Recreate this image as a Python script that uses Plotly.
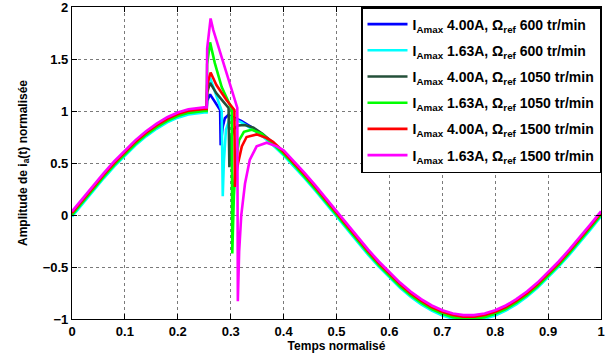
import plotly.graph_objects as go

# ---- shared sinusoidal reference (t, value) ----
t_base = [0.00, 0.02, 0.04, 0.06, 0.08, 0.10, 0.12, 0.14, 0.16, 0.18, 0.20, 0.22, 0.24,
          0.26, 0.28, 0.30, 0.32, 0.34, 0.36, 0.38, 0.40, 0.42, 0.44, 0.46, 0.48, 0.50,
          0.52, 0.54, 0.56, 0.58, 0.60, 0.62, 0.64, 0.66, 0.68, 0.70, 0.72, 0.74, 0.76,
          0.78, 0.80, 0.82, 0.84, 0.86, 0.88, 0.90, 0.92, 0.94, 0.96, 0.98, 1.00]
v_base = [0.000, 0.125, 0.249, 0.368, 0.482, 0.588, 0.685, 0.771, 0.844, 0.905, 0.951, 0.982, 0.998,
          0.998, 0.982, 0.951, 0.905, 0.844, 0.771, 0.685, 0.588, 0.482, 0.368, 0.249, 0.125, 0.000,
          -0.125, -0.249, -0.368, -0.482, -0.588, -0.685, -0.771, -0.844, -0.905, -0.951, -0.982, -0.998, -0.998,
          -0.982, -0.951, -0.905, -0.844, -0.771, -0.685, -0.588, -0.482, -0.368, -0.249, -0.125, 0.000]

# ---- series ----
labels = [
    "I<sub>Amax</sub> 4.00A, Ω<sub>ref</sub> 600 tr/min",
    "I<sub>Amax</sub> 1.63A, Ω<sub>ref</sub> 600 tr/min",
    "I<sub>Amax</sub> 4.00A, Ω<sub>ref</sub> 1050 tr/min",
    "I<sub>Amax</sub> 1.63A, Ω<sub>ref</sub> 1050 tr/min",
    "I<sub>Amax</sub> 4.00A, Ω<sub>ref</sub> 1500 tr/min",
    "I<sub>Amax</sub> 1.63A, Ω<sub>ref</sub> 1500 tr/min",
]
colors = ["#0000FF", "#00FFFF", "#24503A", "#00FF00", "#FF0000", "#FF00FF"]

# small vertical offset of each curve's steady part (read at t=0, 0.75, 1)
offsets = [0.0, -0.015, 0.01, 0.0, 0.02, 0.035]

# transient part of each curve (t, value)
tr_t = [
    [0.250, 0.2545, 0.2555, 0.261, 0.272, 0.280, 0.281, 0.285, 0.289, 0.295],
    [0.250, 0.2545, 0.2555, 0.261, 0.272, 0.283, 0.285, 0.287, 0.291, 0.299],
    [0.250, 0.2545, 0.2555, 0.261, 0.273, 0.286, 0.296, 0.2975, 0.300, 0.305, 0.314, 0.327, 0.343],
    [0.250, 0.2545, 0.2555, 0.261, 0.270, 0.283, 0.299, 0.302, 0.303, 0.306, 0.310, 0.316, 0.325, 0.340, 0.359],
    [0.250, 0.2545, 0.2555, 0.262, 0.273, 0.292, 0.307, 0.308, 0.310, 0.314, 0.321, 0.330, 0.349, 0.368],
    [0.250, 0.2545, 0.2555, 0.262, 0.267, 0.290, 0.3125, 0.3135, 0.316, 0.320, 0.327, 0.336, 0.349, 0.368, 0.387],
]
tr_v = [
    [1.00, 1.00, 1.10, 1.16, 1.08, 1.01, 0.67, 0.85, 0.93, 0.96],
    [0.985, 0.985, 1.20, 1.32, 1.15, 1.00, 0.18, 0.50, 0.82, 0.94],
    [1.01, 1.01, 1.18, 1.27, 1.17, 1.09, 1.03, 0.46, 0.72, 0.82, 0.86, 0.865, 0.84],
    [1.00, 1.00, 1.45, 1.66, 1.46, 1.23, 1.04, 1.02, -0.37, 0.18, 0.53, 0.72, 0.80, 0.82, 0.78],
    [1.02, 1.02, 1.25, 1.37, 1.25, 1.105, 1.01, 0.27, 0.38, 0.50, 0.66, 0.75, 0.775, 0.74],
    [1.035, 1.035, 1.60, 1.89, 1.78, 1.40, 1.03, -0.83, -0.35, 0.00, 0.30, 0.53, 0.66, 0.695, 0.66],
]

fig = go.Figure()
for i, (lab, col, off, tt, vv) in enumerate(zip(labels, colors, offsets, tr_t, tr_v)):
    start, end = tt[0], tt[-1]
    xs = [t for t in t_base if t < start]
    ys = [v + off for t, v in zip(t_base, v_base) if t < start]
    xs += tt
    ys += vv
    xs += [t for t in t_base if t > end + 0.004]
    ys += [v + off for t, v in zip(t_base, v_base) if t > end + 0.004]
    fig.add_trace(go.Scatter(x=xs, y=ys, mode="lines", name=lab, legendgroup=f"g{i}",
                             line=dict(color=col, width=2.6)))

axis_common = dict(
    showline=True, linecolor="black", linewidth=1.2, mirror="ticks",
    ticks="inside", ticklen=5, tickcolor="black", tickwidth=1,
    showgrid=True, gridcolor="#7a7a7a", griddash="dot", gridwidth=1,
    zeroline=False, ticklabeloverflow="allow", automargin=False,
    tickfont=dict(family="Liberation Sans, Arial, sans-serif", size=13, color="black", weight="bold"),
)

fig.update_layout(
    width=614, height=359,
    margin=dict(l=72, r=13, t=7, b=40),
    paper_bgcolor="white", plot_bgcolor="white",
    xaxis=dict(range=[0, 1], dtick=0.1, tick0=0,
               title=dict(text="Temps normalisé", standoff=2,
                          font=dict(family="Liberation Sans, Arial, sans-serif", size=12,
                                    color="black", weight="bold")),
               **axis_common),
    yaxis=dict(range=[-1, 2], dtick=0.5, tick0=-1,
               title=dict(text="Amplitude de i<sub>a</sub>(t) normalisée", standoff=12,
                          font=dict(family="Liberation Sans, Arial, sans-serif", size=12,
                                    color="black", weight="bold")),
               **axis_common),
    legend=dict(x=1, y=1, xanchor="right", yanchor="top",
                bgcolor="white", bordercolor="black", borderwidth=1.5,
                font=dict(family="Liberation Sans, Arial, sans-serif", size=14,
                          color="black", weight="bold"),
                itemwidth=40, tracegroupgap=5),
    showlegend=True,
)

fig.write_html("out.html")
